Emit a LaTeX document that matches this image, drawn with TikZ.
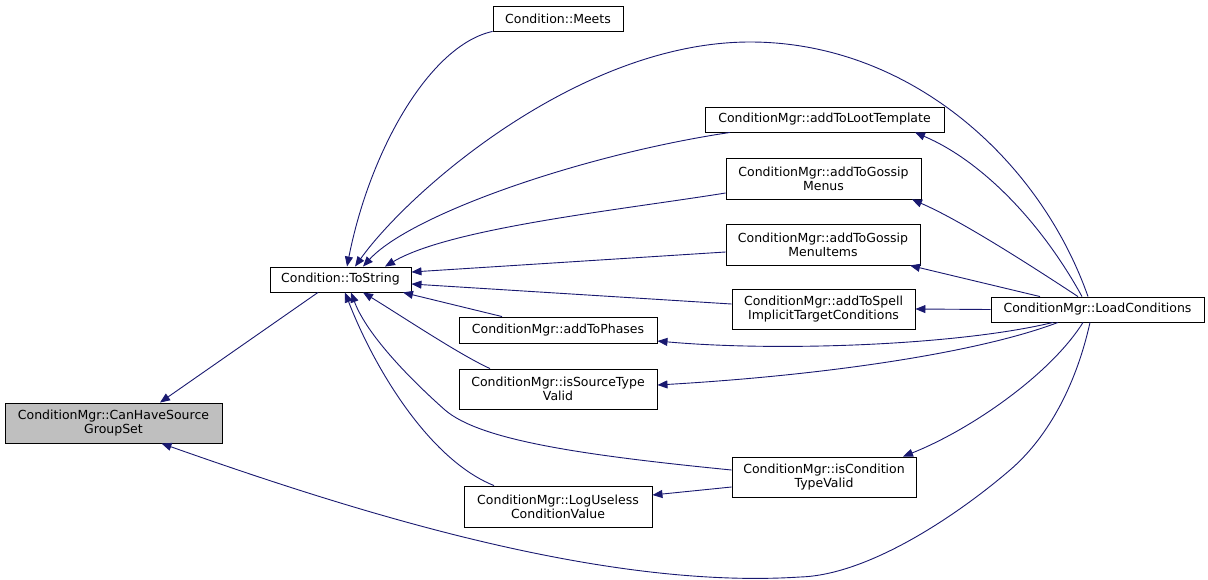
\documentclass[tikz,border=0pt]{standalone}
\usepackage{fontspec}
\setmainfont{DejaVu Sans}
\usepackage{xcolor}
\usepackage{tikz}
\usetikzlibrary{arrows.meta}
\definecolor{edgeblue}{HTML}{191970}
\definecolor{nodegray}{HTML}{BFBFBF}

\begin{document}
\begin{tikzpicture}[x=1pt,y=-1pt,
        fn/.style={draw=black,line width=0.9pt,fill=white,inner sep=0pt,align=center,font=\fontsize{12.5}{14}\selectfont},
        call/.style={edgeblue,line width=0.9pt,-{Triangle[length=10pt,width=8pt]}}]
        \useasboundingbox (0,0) rectangle (1208,579);
        \node[fn,fill=nodegray,minimum width=217pt,minimum height=40pt] (cansrc) at (113.5,423) {ConditionMgr::CanHaveSource\\GroupSet};
        \node[fn,minimum width=141pt,minimum height=25pt] (tostr) at (340.5,279.5) {Condition::ToString};
        \node[fn,minimum width=130pt,minimum height=25pt] (meets) at (558,18.5) {Condition::Meets};
        \node[fn,minimum width=239pt,minimum height=25pt] (loot) at (824.5,119.5) {ConditionMgr::addToLootTemplate};
        \node[fn,minimum width=195pt,minimum height=41pt] (gossip) at (823.5,178.5) {ConditionMgr::addToGossip\\Menus};
        \node[fn,minimum width=194pt,minimum height=41pt] (items) at (823,244.5) {ConditionMgr::addToGossip\\MenuItems};
        \node[fn,minimum width=183pt,minimum height=40pt] (spell) at (823.5,309) {ConditionMgr::addToSpell\\ImplicitTargetConditions};
        \node[fn,minimum width=198pt,minimum height=26pt] (phases) at (558,330) {ConditionMgr::addToPhases};
        \node[fn,minimum width=198pt,minimum height=40pt] (srctype) at (558,389) {ConditionMgr::isSourceType\\Valid};
        \node[fn,minimum width=184pt,minimum height=40pt] (condtype) at (824,477) {ConditionMgr::isCondition\\TypeValid};
        \node[fn,minimum width=188pt,minimum height=41pt] (useless) at (558,506.5) {ConditionMgr::LogUseless\\ConditionValue};
        \node[fn,minimum width=213pt,minimum height=25pt] (load) at (1097.5,309.5) {ConditionMgr::LoadConditions};

        \draw[call] ([xshift=-22.5pt]tostr.south) -- ([xshift=46.5pt]cansrc.north);
        \draw[call] ([xshift=-7.5pt]load.south) .. controls (1075,390) and (1045,440) .. (1010,470)
            .. controls (960,513) and (870,575) .. (800,577)
            .. controls (600,590) and (350,510) .. ([xshift=48pt]cansrc.south);
        \draw[call] (meets.south west) .. controls (430,45) and (370,150) .. ([xshift=6.5pt]tostr.north);
        \draw[call] ([xshift=-9.5pt]load.north) .. controls (1040,160) and (910,42) .. (750,42)
            .. controls (580,42) and (410,190) .. ([xshift=14.5pt]tostr.north);
        \draw[call] ([xshift=-94.5pt]loot.south) .. controls (580,155) and (410,215) .. ([xshift=22.5pt]tostr.north);
        \draw[call] ([yshift=-14.5pt]gossip.west) .. controls (620,210) and (450,228) .. ([xshift=44.5pt]tostr.north);
        \draw[call] ([yshift=-7.5pt]items.west) -- ([yshift=7.5pt]tostr.east);
        \draw[call] ([yshift=5pt]spell.west) -- ([yshift=-4.5pt]tostr.east);
        \draw[call] ([xshift=-56pt]phases.north) -- ([xshift=62.5pt]tostr.south);
        \draw[call] ([xshift=-68pt]srctype.north) .. controls (460,355) and (400,315) .. ([xshift=22.5pt]tostr.south);
        \draw[call] ([yshift=7pt]condtype.west) .. controls (580,455) and (480,440) .. (445,410)
            .. controls (400,370) and (365,330) .. ([xshift=10.5pt]tostr.south);
        \draw[call] ([xshift=-64pt]useless.north) .. controls (430,460) and (375,370) .. ([xshift=4.5pt]tostr.south);
        \draw[call] ([xshift=-15.5pt]load.north) .. controls (1040,220) and (980,160) .. ([xshift=90.5pt]loot.south);
        \draw[call] ([xshift=-19.5pt]load.north) .. controls (1030,265) and (960,220) .. ([xshift=88.5pt]gossip.south);
        \draw[call] ([xshift=-57.5pt]load.north) -- ([xshift=87pt]items.south);
        \draw[call] (load.west) -- (spell.east);
        \draw[call] ([xshift=-44.5pt]load.south) .. controls (960,345) and (780,352) .. ([yshift=-11pt]phases.east);
        \draw[call] ([xshift=-39.5pt]load.south) .. controls (980,352) and (830,375) .. ([yshift=4pt]srctype.east);
        \draw[call] ([xshift=-14.5pt]load.south) .. controls (1050,375) and (970,430) .. ([xshift=79pt]condtype.north);
        \draw[call] ([yshift=-10pt]condtype.west) -- ([yshift=11.5pt]useless.east);
    \end{tikzpicture}
\end{document}
